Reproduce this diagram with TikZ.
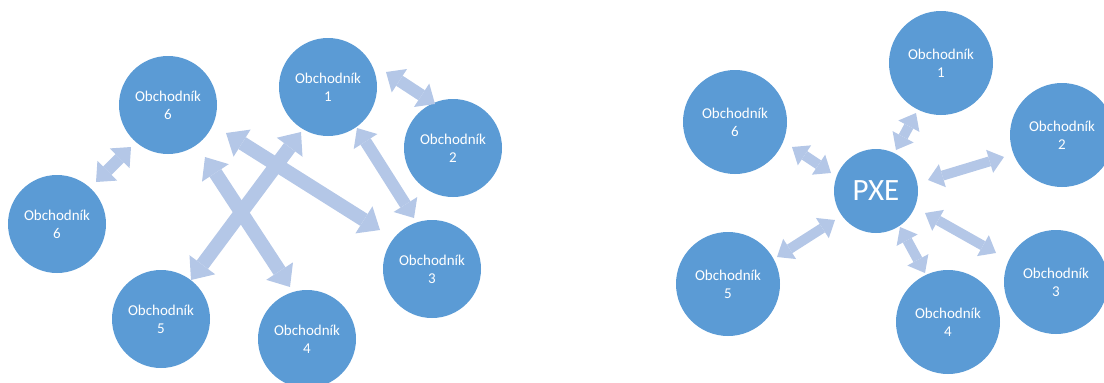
\documentclass[tikz,border=0pt]{standalone}
\usepackage{fontspec}
\setmainfont{Carlito}
\usetikzlibrary{arrows.meta}
\definecolor{cfill}{HTML}{5B9BD5}
\definecolor{afill}{HTML}{B4C7E7}
\begin{document}
\begin{tikzpicture}[x=1pt,y=-1pt,
  dealer/.style={circle,fill=cfill,minimum size=98pt,inner sep=0pt,text=white,
    font=\fontsize{15}{18}\selectfont,align=center},
  dealerR/.style={dealer,minimum size=104pt},
  hub/.style={circle,fill=cfill,minimum size=84pt,inner sep=0pt,text=white,
    font=\fontsize{31}{31}\selectfont},
  arrS/.style={draw=afill,line width=10pt,
    arrows={Triangle[width=24pt,length=15pt,line width=0pt]-Triangle[width=24pt,length=15pt,line width=0pt]}},
  arrM/.style={draw=afill,line width=12pt,
    arrows={Triangle[width=28pt,length=16pt,line width=0pt]-Triangle[width=28pt,length=16pt,line width=0pt]}},
  arrL/.style={draw=afill,line width=14pt,
    arrows={Triangle[width=32pt,length=19pt,line width=0pt]-Triangle[width=32pt,length=19pt,line width=0pt]}},
]
\useasboundingbox (0,0) rectangle (1104,383);
\clip (0,0) rectangle (1104,383);
% nodes (left)
\node[dealer] (L6a) at (168,105) {Obchodník\\6};
\node[dealer] (L1) at (328,87) {Obchodník\\1};
\node[dealer] (L2) at (453,148) {Obchodník\\2};
\node[dealer] (L6b) at (57,224) {Obchodník\\6};
\node[dealer] (L3) at (432,269) {Obchodník\\3};
\node[dealer] (L5) at (161,319) {Obchodník\\5};
\node[dealer] (L4) at (307,339) {Obchodník\\4};
% nodes (right)
\node[dealerR] (R1) at (941,63) {Obchodník\\1};
\node[dealerR] (R6) at (735,122) {Obchodník\\6};
\node[dealerR] (R2) at (1062,135) {Obchodník\\2};
\node[hub] (P) at (876,191) {PXE};
\node[dealerR] (R5) at (728,284) {Obchodník\\5};
\node[dealerR] (R3) at (1056,282) {Obchodník\\3};
\node[dealerR] (R4) at (948,322) {Obchodník\\4};
% arrows (left)
\draw[arrM] ([shift={(39,-42)}]L6b.center) -- ([shift={(-37,42)}]L6a.center);
\draw[arrM] ([shift={(58,-15)}]L1.center) -- ([shift={(-18,-44)}]L2.center);
\draw[arrM] ([shift={(29,41)}]L1.center) -- ([shift={(-18,-51)}]L3.center);
\draw[arrL] ([shift={(58,28)}]L6a.center) -- ([shift={(-52,-39)}]L3.center);
\draw[arrL] ([shift={(-27,45)}]L1.center) -- ([shift={(30,-39)}]L5.center);
\draw[arrL] ([shift={(37,52)}]L6a.center) -- ([shift={(-17,-52)}]L4.center);
% arrows (right)
\draw[arrS] ([shift={(20,-41)}]P.center) -- ([shift={(-25,50)}]R1.center);
\draw[arrS] ([shift={(-45,-18)}]P.center) -- ([shift={(57,25)}]R6.center);
\draw[arrS] ([shift={(52,-11)}]P.center) -- ([shift={(-58,22)}]R2.center);
\draw[arrS] ([shift={(-41,29)}]P.center) -- ([shift={(49,-27)}]R5.center);
\draw[arrS] ([shift={(49,22)}]P.center) -- ([shift={(-60,-29)}]R3.center);
\draw[arrS] ([shift={(24,36)}]P.center) -- ([shift={(-23,-49)}]R4.center);
\end{tikzpicture}
\end{document}
